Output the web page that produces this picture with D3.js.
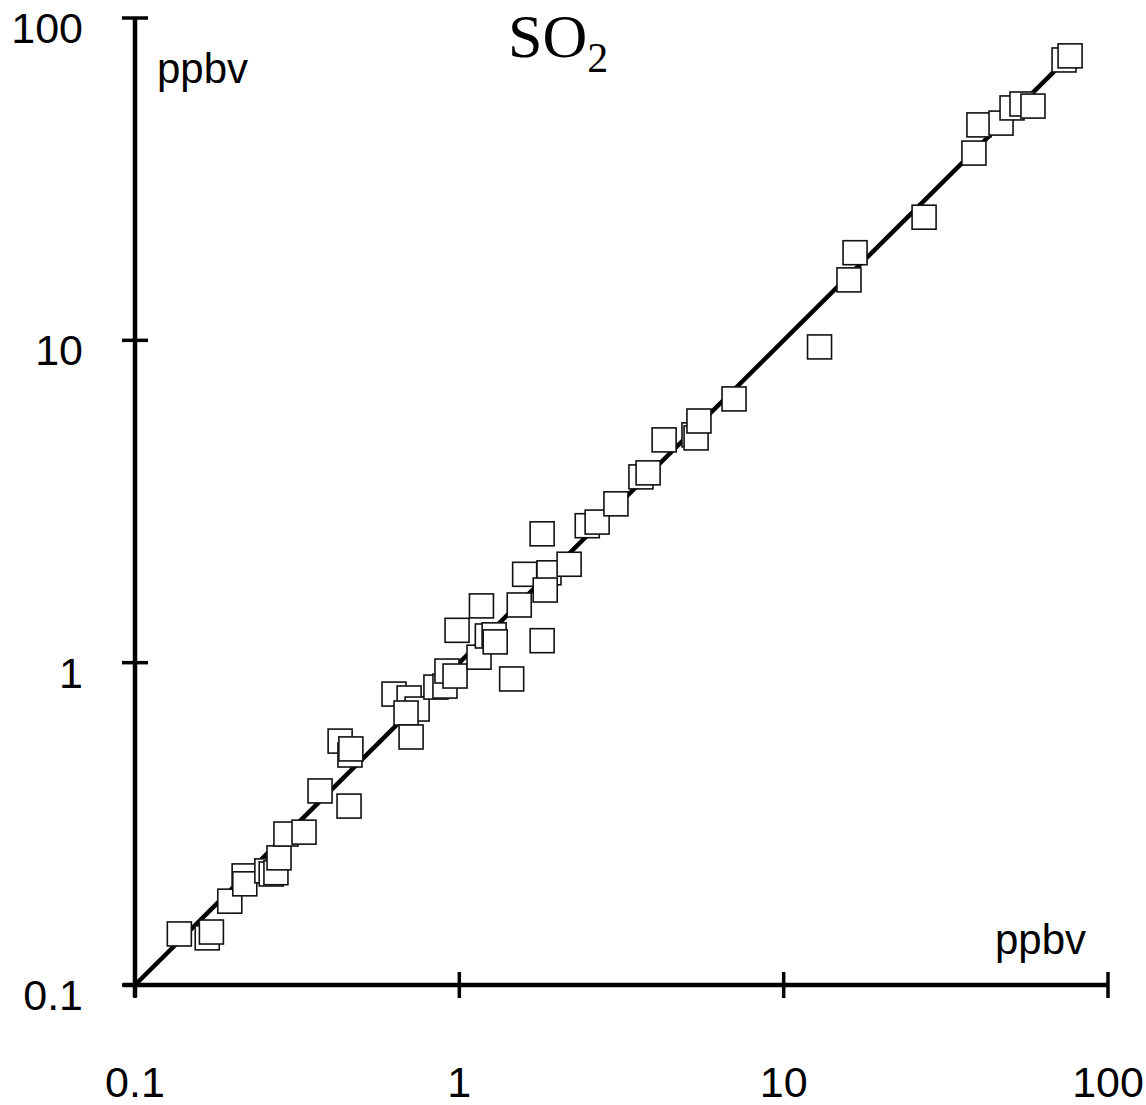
<!DOCTYPE html>
<html lang="en">
<head>
    <meta charset="UTF-8">
    <title>SO2 comparison</title>
    <style>
        body { margin: 0; background: #fff; }
        text { font-family: "Liberation Sans", Arial, sans-serif; fill: #000; }
    </style>
</head>
<body>
    <script src="https://cdn.jsdelivr.net/npm/d3@7"></script>
    <script type="text/javascript">
        // data (ppbv)
        var xVals = [0.137, 0.167, 0.172, 0.196, 0.217, 0.218, 0.255, 0.263, 0.272, 0.278,
                     0.292, 0.332, 0.372, 0.457, 0.429, 0.460, 0.463, 0.629, 0.700, 0.741,
                     0.685, 0.710, 0.847, 0.903, 0.916, 0.970, 1.15, 1.45, 0.984, 1.17,
                     1.22, 1.28, 1.29, 1.80, 1.53, 1.59, 1.89, 1.84, 2.18, 1.80,
                     2.48, 2.66, 3.04, 3.63, 3.82, 4.28, 5.29, 5.37, 5.48, 7.03,
                     12.9, 15.9, 16.6, 27.1, 38.6, 40.0, 46.8, 50.6, 54.3, 58.7,
                     73.2, 76.4];
        var yVals = [0.144, 0.140, 0.146, 0.182, 0.218, 0.206, 0.226, 0.221, 0.223, 0.248,
                     0.294, 0.298, 0.400, 0.359, 0.571, 0.517, 0.540, 0.799, 0.777, 0.718,
                     0.698, 0.588, 0.840, 0.846, 0.942, 0.909, 1.04, 0.890, 1.26, 1.50,
                     1.21, 1.22, 1.16, 1.17, 1.51, 1.88, 1.90, 1.68, 2.02, 2.51,
                     2.66, 2.73, 3.11, 3.77, 3.88, 4.91, 5.09, 4.98, 5.62, 6.58,
                     9.54, 15.4, 18.7, 24.1, 38.1, 46.6, 47.2, 52.6, 54.1, 53.3,
                     74.1, 76.3];
        var tickVals = [0.1, 1, 10, 100];
        var tickLabels = ["0.1", "1", "10", "100"];
        var fitX = [0.1, 76];

        var w = 1146, h = 1105;
        var svg = d3.select("body").append("svg").attr("width", w).attr("height", h);

        var x = d3.scaleLog().domain([0.1, 100]).range([135, 1108]);
        var y = d3.scaleLog().domain([0.1, 100]).range([985, 18]);

        // 1:1 line
        svg.append("line")
            .attr("x1", x(fitX[0])).attr("y1", y(fitX[0]))
            .attr("x2", x(fitX[1])).attr("y2", y(fitX[1]))
            .attr("stroke", "#000").attr("stroke-width", 4.5);

        // axes
        svg.append("line")
            .attr("x1", x(0.1)).attr("y1", y(100))
            .attr("x2", x(0.1)).attr("y2", y(0.1) + 12)
            .attr("stroke", "#000").attr("stroke-width", 4.5);
        svg.append("line")
            .attr("x1", x(0.1) - 12).attr("y1", y(0.1))
            .attr("x2", x(100)).attr("y2", y(0.1))
            .attr("stroke", "#000").attr("stroke-width", 4.5);

        svg.selectAll("line.ytick")
            .data(tickVals)
            .enter()
            .append("line")
            .attr("class", "ytick")
            .attr("x1", x(0.1) - 13).attr("x2", x(0.1) + 13)
            .attr("y1", function(d){ return y(d); })
            .attr("y2", function(d){ return y(d); })
            .attr("stroke", "#000").attr("stroke-width", 3.5);

        svg.selectAll("line.xtick")
            .data(tickVals)
            .enter()
            .append("line")
            .attr("class", "xtick")
            .attr("y1", y(0.1) - 13).attr("y2", y(0.1) + 13)
            .attr("x1", function(d){ return x(d); })
            .attr("x2", function(d){ return x(d); })
            .attr("stroke", "#000").attr("stroke-width", 3.5);

        svg.selectAll("text.ylab")
            .data(tickVals)
            .enter()
            .append("text")
            .attr("class", "ylab")
            .text(function(d, i){ return tickLabels[i]; })
            .attr("x", 83)
            .attr("y", function(d){ return y(d) + 25; })
            .attr("text-anchor", "end")
            .attr("font-size", "43px");

        svg.selectAll("text.xlab")
            .data(tickVals)
            .enter()
            .append("text")
            .attr("class", "xlab")
            .text(function(d, i){ return tickLabels[i]; })
            .attr("x", function(d){ return x(d); })
            .attr("y", 1097)
            .attr("text-anchor", "middle")
            .attr("font-size", "43px");

        // unit labels
        svg.append("text").text("ppbv").attr("x", 157).attr("y", 83).attr("font-size", "42px");
        svg.append("text").text("ppbv").attr("x", 995).attr("y", 954).attr("font-size", "42px");

        // title
        var title = svg.append("text")
            .attr("x", 508).attr("y", 57)
            .style("font-family", "'Liberation Serif', 'Times New Roman', serif")
            .attr("font-size", "62px");
        title.append("tspan").text("SO");
        title.append("tspan").text("2").attr("font-size", "42px").attr("dy", 15);

        // markers
        var pts = xVals.map(function(d, i){ return [d, yVals[i]]; });
        var s = 24;
        svg.selectAll("rect.pt")
            .data(pts)
            .enter()
            .append("rect")
            .attr("class", "pt")
            .attr("x", function(d){ return x(d[0]) - s / 2; })
            .attr("y", function(d){ return y(d[1]) - s / 2; })
            .attr("width", s)
            .attr("height", s)
            .attr("fill", "#fff")
            .attr("stroke", "#111")
            .attr("stroke-width", 1.6);
    </script>
</body>
</html>
